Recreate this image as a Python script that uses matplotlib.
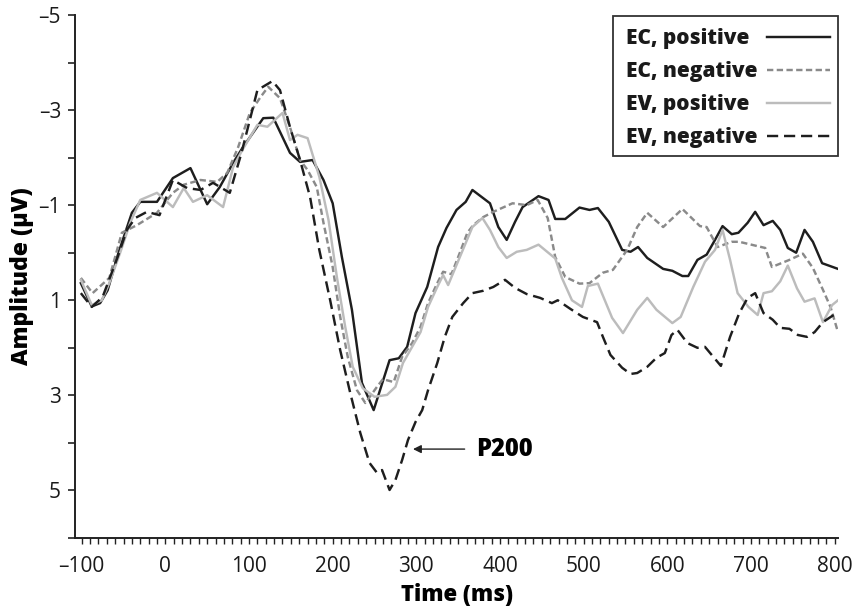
import matplotlib
matplotlib.use("Agg")
import matplotlib.pyplot as plt
from matplotlib.patches import Rectangle
from matplotlib.lines import Line2D

plt.rcParams['font.family'] = ['Open Sans', 'DejaVu Sans']

# ---------------- data ----------------
ec_pos_t = [-101, -88, -78, -69, -56, -40, -30, -10, 9, 30, 50, 65, 81, 92, 117, 129, 149, 161, 176, 189,
            200, 211, 223, 235, 249, 268, 279, 289, 299, 313, 326, 336, 348, 359, 367, 388, 398, 408, 418,
            427, 446, 458, 466, 478, 495, 507, 517, 530, 546, 556, 565, 576, 595, 606, 618, 625, 636, 647,
            657, 666, 677, 685, 696, 705, 715, 726, 735, 744, 754, 764, 774, 785, 804]
ec_pos_v = [0.64, 1.13, 1.06, 0.79, 0.0, -0.84, -1.07, -1.07, -1.57, -1.78, -1.02, -1.38, -1.89, -2.2, -2.83,
            -2.84, -2.1, -1.91, -1.95, -1.53, -1.04, 0.09, 1.2, 2.74, 3.31, 2.26, 2.22, 1.98, 1.27, 0.72,
            -0.12, -0.52, -0.9, -1.07, -1.32, -1.04, -0.54, -0.27, -0.65, -0.96, -1.19, -1.11, -0.71, -0.71,
            -0.95, -0.9, -0.94, -0.65, -0.06, -0.02, -0.12, 0.11, 0.34, 0.38, 0.49, 0.49, 0.15, 0.04, -0.27,
            -0.56, -0.39, -0.42, -0.63, -0.86, -0.58, -0.67, -0.48, -0.1, 0.0, -0.48, -0.23, 0.22, 0.34]

ec_neg_t = [-101, -87, -67, -52, -34, -10, 9, 22, 42, 62, 74, 87, 101, 114, 123, 137, 149, 161, 170, 181,
            189, 200, 209, 218, 229, 239, 253, 260, 273, 283, 295, 305, 314, 325, 332, 342, 352, 361, 368,
            380, 392, 415, 432, 445, 457, 466, 478, 495, 507, 523, 535, 552, 564, 576, 595, 618, 639, 647,
            660, 677, 686, 717, 725, 746, 762, 774, 786, 795, 804]
ec_neg_v = [0.53, 0.85, 0.53, -0.42, -0.58, -0.84, -1.26, -1.43, -1.53, -1.49, -1.68, -2.22, -2.94, -3.28,
            -3.49, -3.25, -2.64, -1.95, -1.74, -1.38, -0.63, 0.3, 1.35, 2.19, 2.89, 3.16, 2.82, 2.66, 2.72,
            2.19, 1.9, 1.56, 1.06, 0.64, 0.4, 0.45, 0.0, -0.42, -0.58, -0.75, -0.86, -1.04, -1.0, -1.11,
            -0.73, 0.09, 0.51, 0.65, 0.64, 0.42, 0.36, -0.06, -0.54, -0.84, -0.54, -0.92, -0.56, -0.54,
            -0.12, -0.23, -0.23, -0.1, 0.3, 0.15, 0.02, 0.32, 0.78, 1.14, 1.67]

ev_pos_t = [-101, -88, -76, -67, -54, -42, -30, -10, 9, 22, 33, 50, 69, 81, 92, 110, 122, 140, 149, 158,
            170, 184, 195, 205, 215, 224, 236, 250, 265, 275, 284, 293, 305, 314, 325, 332, 338, 352, 367,
            379, 388, 398, 408, 420, 432, 446, 466, 474, 486, 498, 505, 517, 534, 547, 564, 576, 587, 606,
            616, 631, 645, 657, 666, 675, 684, 697, 708, 715, 725, 735, 744, 755, 764, 776, 786, 797, 804]
ev_pos_v = [0.57, 1.1, 1.0, 0.64, 0.0, -0.63, -1.11, -1.26, -0.96, -1.36, -1.07, -1.21, -0.96, -1.8, -2.16,
            -2.69, -2.65, -2.94, -2.37, -2.48, -2.41, -1.6, -0.69, 0.51, 1.56, 2.4, 2.85, 3.03, 2.99, 2.82,
            2.32, 2.04, 1.67, 1.14, 0.72, 0.47, 0.68, 0.09, -0.54, -0.73, -0.48, -0.12, 0.11, -0.02, -0.06,
            -0.17, 0.12, 0.53, 1.0, 1.14, 0.7, 0.65, 1.37, 1.69, 1.2, 0.95, 1.2, 1.48, 1.35, 0.72, 0.19,
            -0.06, -0.48, 0.15, 0.85, 1.14, 1.31, 0.85, 0.81, 0.6, 0.27, 0.75, 1.03, 0.96, 1.46, 1.1, 1.0]

ev_neg_t = [-101, -88, -75, -57, -46, -36, -22, -7, 9, 26, 42, 57, 77, 91, 110, 128, 137, 149, 161, 173,
            184, 197, 209, 221, 233, 244, 253, 259, 268, 275, 283, 290, 299, 307, 314, 325, 334, 343, 356,
            367, 380, 392, 406, 418, 432, 448, 462, 469, 484, 499, 516, 523, 532, 546, 556, 564, 576, 587,
            597, 605, 612, 624, 636, 645, 664, 675, 686, 696, 705, 715, 726, 735, 746, 756, 767, 776, 786,
            797, 804]
ev_neg_v = [0.85, 1.14, 0.93, 0.09, -0.48, -0.73, -0.86, -0.79, -1.53, -1.36, -1.32, -1.47, -1.26, -2.1,
            -3.42, -3.61, -3.42, -2.64, -1.95, -1.17, -0.06, 1.0, 2.05, 2.95, 3.79, 4.42, 4.63, 4.57, 4.99,
            4.78, 4.36, 3.94, 3.56, 3.31, 2.89, 2.32, 1.77, 1.35, 1.06, 0.85, 0.8, 0.72, 0.57, 0.74, 0.87,
            0.95, 1.06, 1.0, 1.18, 1.35, 1.46, 1.77, 2.15, 2.42, 2.55, 2.53, 2.4, 2.21, 2.11, 1.73, 1.62,
            1.9, 2.0, 1.98, 2.38, 1.77, 1.27, 0.95, 0.85, 1.27, 1.41, 1.58, 1.6, 1.73, 1.77, 1.67, 1.46,
            1.33, 1.27]

series_labels = ["EC, positive", "EC, negative", "EV, positive", "EV, negative"]
x_tick_values = [-100, 0, 100, 200, 300, 400, 500, 600, 700, 800]
x_tick_labels = ["\u2013100", "0", "100", "200", "300", "400", "500", "600", "700", "800"]
y_tick_values = [-5, -3, -1, 1, 3, 5]
y_tick_labels = ["\u20135", "\u20133", "\u20131", "1", "3", "5"]
annotation_text = "P200"

# ---------------- styles ----------------
lw = 1.75
styles = [
    dict(color="#1e1e1e", lw=lw, linestyle="-"),
    dict(color="#8a8a8a", lw=lw, linestyle=(0, (2.6, 1.4))),
    dict(color="#bcbcbc", lw=lw, linestyle="-"),
    dict(color="#1e1e1e", lw=lw, linestyle=(0, (4.6, 2.4))),
]
heavy = 800

# ---------------- figure ----------------
W, H = 855, 606
fig = plt.figure(figsize=(W / 100, H / 100), dpi=100)
ax = fig.add_axes([75 / W, 1 - 538 / H, (838 - 75) / W, (538 - 15) / H])

series = [(ec_pos_t, ec_pos_v), (ec_neg_t, ec_neg_v), (ev_pos_t, ev_pos_v), (ev_neg_t, ev_neg_v)]
for (t, v), st, lab in zip(series, styles, series_labels):
    ax.plot(t, v, label=lab, **st)

ax.set_xlim(-108, 804)
ax.set_ylim(6, -5)

ax.set_xticks(x_tick_values)
ax.set_xticklabels(x_tick_labels, fontsize=15, color="#1a1a1a")
ax.set_xticks(range(-100, 801, 10), minor=True)
ax.set_yticks(y_tick_values)
ax.set_yticklabels(y_tick_labels, fontsize=15, color="#1a1a1a")
ax.set_yticks(range(-5, 7), minor=True)

ax.tick_params(axis="x", which="both", direction="out", length=4, width=1.0, pad=9, color="#222222")
ax.tick_params(axis="y", which="both", direction="out", length=5, width=1.2, pad=5, color="#222222")

for s in ["top", "right"]:
    ax.spines[s].set_visible(False)
for s in ["left", "bottom"]:
    ax.spines[s].set_linewidth(1.4)
    ax.spines[s].set_color("#222222")

ax.set_xlabel("Time (ms)", fontsize=16, fontweight=heavy, labelpad=4)
ax.set_ylabel("Amplitude (\u03bcV)", fontsize=16.5, fontweight=heavy, labelpad=3)

ax.annotate(annotation_text, xy=(296, 4.13), xytext=(371, 4.13),
            fontsize=17, fontweight=heavy, va="center", ha="left",
            arrowprops=dict(arrowstyle="-|>", color="#222222", lw=1.0,
                            shrinkA=6, shrinkB=0, mutation_scale=12))

# ---------------- legend (text left, sample line right) ----------------
def fx(px):
    return px / W

def fy(py):
    return 1 - py / H

fig.add_artist(Rectangle((fx(613), fy(156)), fx(838) - fx(613), fy(16) - fy(156),
                         transform=fig.transFigure, facecolor="white",
                         edgecolor="#333333", lw=1.3, zorder=5))
row_y = [37, 70, 103, 136]
for lab, st, ry in zip(series_labels, styles, row_y):
    fig.text(fx(626), fy(ry + 7), lab, fontsize=15, fontweight=heavy,
             ha="left", va="baseline", color="#1a1a1a", zorder=6)
    fig.add_artist(Line2D([fx(767), fx(830)], [fy(ry), fy(ry)], transform=fig.transFigure,
                          zorder=6, **st))

fig.savefig("out.png", dpi=100)
